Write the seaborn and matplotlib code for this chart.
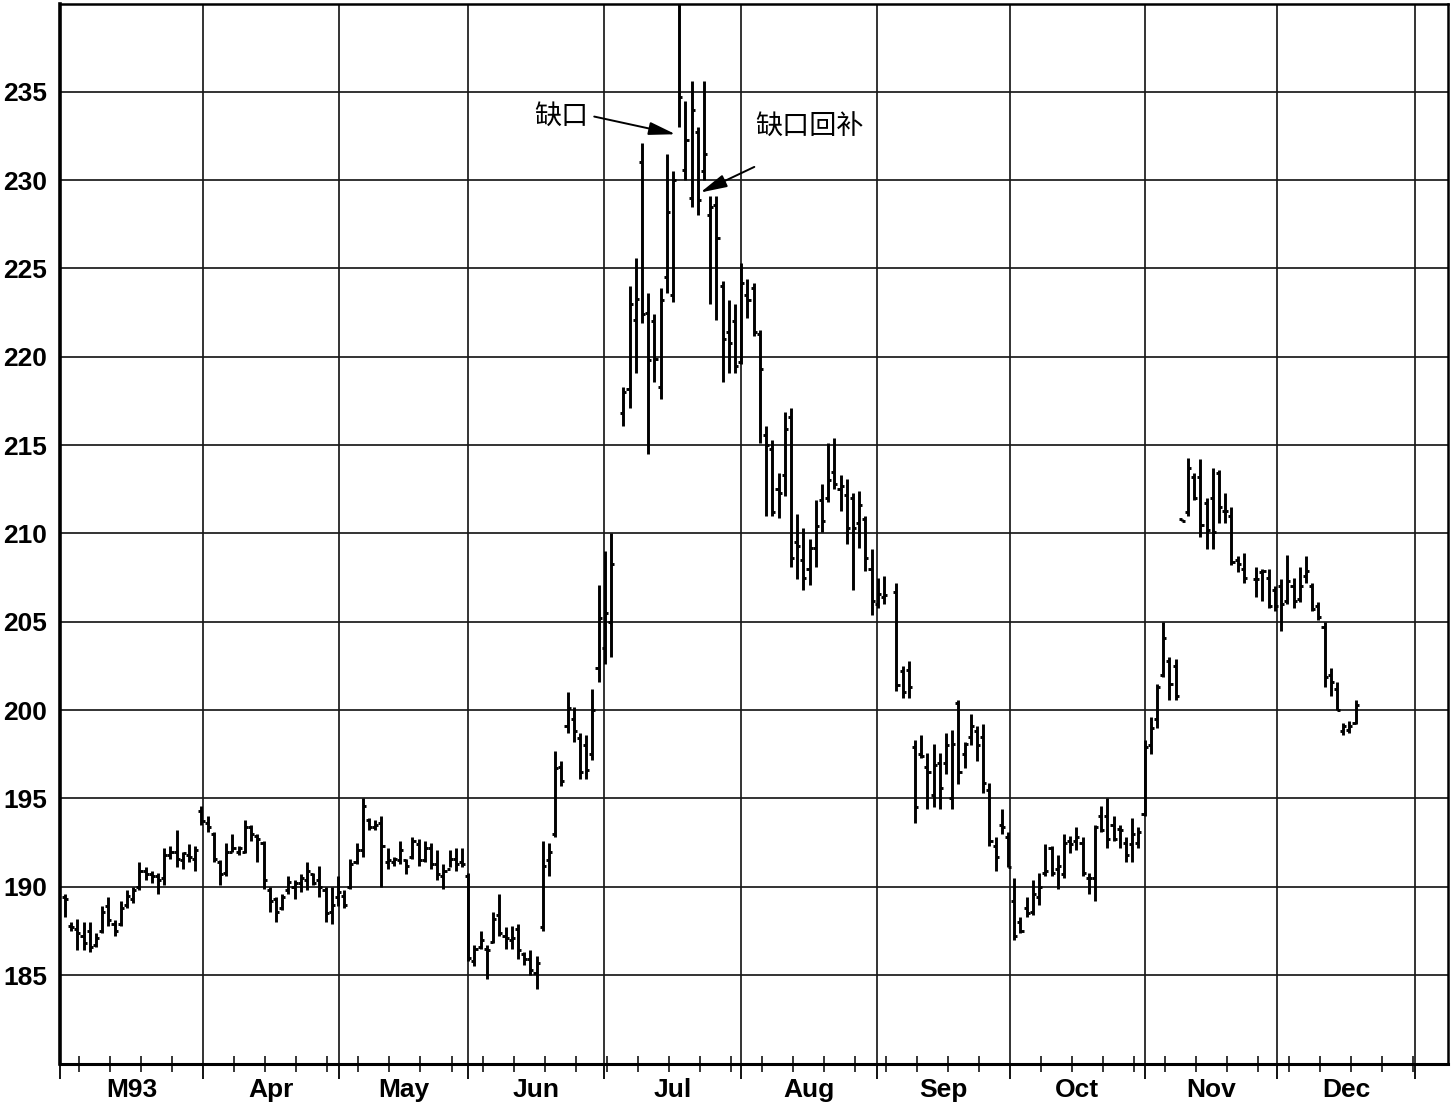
import numpy as np
import pandas as pd
import matplotlib
matplotlib.use("Agg")
import matplotlib.pyplot as plt
import seaborn as sns

# ---------------- data (daily OHLC, one entry per trading-day slot; None = no trading) ----------------
OPEN = [
    # March
    189.4, 187.8, 187.6, 187.2, 187.5, 186.7, 187.5, 188.9, 187.9, 187.9, 189.0, 189.3, 190.0, 190.9, 190.7, 190.6, 190.5, 191.8, 192.0, 191.5, 191.8, 191.6,
    # April
    194.3, 193.6, 193.0, 191.4, 190.8, 192.0, 192.0, 192.0, 193.4, 192.9, 192.5, 189.8, 189.3, 188.8, 189.8, 190.0, 190.2, 190.4, 190.7, 190.4, 189.8, 188.6,
    # May
    189.4, 189.5, 190.0, 191.4, 192.1, 193.8, 193.4, 193.6, 191.4, 191.4, 191.5, 191.5, 191.7, 192.4, 191.5, 192.2, 191.3, 190.6, 191.0, 191.6, 191.4,
    # June
    190.6, 185.8, 186.6, 186.5, 186.9, 188.4, 187.2, 187.0, 187.6, 186.2, 185.9, 185.1, 187.7, 191.5, 193.0, 196.8, 199.1, 199.5, 198.4, 198.0, 197.5, 202.4, 203.5, 205.0,
    None,
    # July
    216.8, 218.2, 222.1, 231.0, 222.5, 222.0, 218.3, 224.5, 223.5, 241.0, 230.6, 229.0, 232.7, 230.5, 228.0, 228.6, 224.0, 221.4, 222.0,
    # August
    219.7, 223.5, 223.9, 221.3, 215.6, 214.8, 212.5, 213.3, 216.6, 209.5, 208.5, 208.0, 209.2, 211.9, 212.0, 213.5, 212.5, 212.2, 212.0, 210.6, 210.8, 208.0,
    # September
    206.0, 206.4, None, 206.7, 202.2, 202.3, 197.9, 197.5, 196.8, 195.2, 197.0, 197.0, 195.0, 200.4, 197.5, 198.5, 198.8, 198.5, 195.5, 192.3, 193.5, 192.8,
    # October
    189.2, 188.0, 188.8, 188.6, 189.4, 190.8, 192.2, 191.0, 190.7, 192.6, 192.6, 192.5, 190.5, 190.5, 194.0, 194.0, 193.5, 193.3, 192.5, 192.4, 192.5, 194.1,
    # November
    198.0, 199.5, 202.0, 202.8, 202.5, 210.8, 211.2, 213.2, 213.2, 211.7, 212.0, 213.4, 211.3, 211.0, 208.5, 208.0, None, 207.4, 207.8, 207.5,
    # December
    206.8, 207.0, 206.2, 207.0, 206.3, 207.6, 207.0, 205.9, 204.7, 202.0, 201.2, 198.8, 198.9, 199.3,
]
HIGH = [
    189.6, 188.0, 188.2, 188.0, 188.0, 187.4, 188.9, 189.4, 188.1, 189.2, 189.8, 190.0, 191.4, 191.1, 190.9, 190.8, 192.2, 192.3, 193.2, 192.0, 192.4, 192.3,
    194.6, 194.0, 193.1, 191.5, 192.5, 193.0, 192.3, 193.8, 193.5, 193.0, 192.6, 190.0, 189.4, 189.6, 190.6, 190.4, 190.7, 191.4, 190.8, 191.2, 190.0, 190.0,
    190.6, 189.8, 191.6, 192.5, 195.0, 193.9, 193.8, 194.0, 192.2, 191.7, 192.6, 191.6, 192.8, 192.7, 192.6, 192.5, 192.1, 191.3, 192.1, 192.2, 192.2,
    190.8, 186.7, 187.5, 186.7, 188.6, 189.6, 187.7, 187.8, 187.9, 186.3, 186.4, 186.1, 192.6, 192.5, 197.7, 197.1, 201.0, 200.2, 198.7, 198.6, 201.2, 207.1, 209.0, 210.0,
    None,
    218.3, 224.0, 225.6, 232.1, 223.6, 222.4, 223.9, 231.5, 230.5, 241.0, 234.5, 235.6, 233.0, 235.6, 229.1, 229.1, 224.3, 223.2, 223.0,
    225.3, 224.4, 224.2, 221.5, 216.1, 215.3, 213.4, 216.9, 217.1, 211.1, 210.3, 209.7, 211.9, 212.8, 215.1, 215.4, 213.3, 213.1, 212.3, 212.4, 211.0, 209.1,
    207.5, 207.6, None, 207.2, 202.5, 202.8, 198.3, 198.6, 197.6, 198.1, 197.6, 198.7, 198.9, 200.6, 198.2, 199.8, 199.1, 199.2, 195.9, 192.8, 194.4, 193.1,
    190.5, 188.3, 189.4, 190.4, 190.8, 192.4, 192.3, 191.8, 193.0, 192.9, 193.4, 192.8, 190.8, 193.5, 194.6, 195.0, 194.0, 193.5, 192.8, 193.9, 193.4, 198.3,
    199.6, 201.5, 205.0, 203.0, 202.9, 210.8, 214.3, 213.4, 214.2, 212.0, 213.7, 213.6, 212.3, 211.5, 208.7, 208.9, None, 208.1, 208.0, 208.0,
    207.0, 207.4, 208.8, 207.5, 208.1, 208.7, 207.2, 206.1, 205.0, 202.4, 201.6, 199.3, 199.4, 200.6,
]
LOW = [
    188.3, 187.5, 186.4, 186.4, 186.3, 186.6, 187.4, 187.8, 187.2, 187.8, 188.8, 189.1, 189.8, 190.4, 190.2, 189.6, 190.1, 191.6, 191.1, 191.0, 191.4, 190.9,
    193.5, 193.1, 191.4, 190.1, 190.6, 192.0, 191.8, 191.9, 192.6, 191.4, 189.9, 188.6, 188.0, 188.7, 189.6, 189.3, 189.7, 189.8, 190.1, 189.4, 188.0, 187.9,
    188.9, 188.8, 189.9, 191.3, 191.7, 193.2, 193.2, 190.0, 191.0, 191.2, 191.3, 190.7, 191.6, 191.2, 191.4, 191.0, 190.4, 189.9, 191.1, 190.9, 191.1,
    185.8, 185.5, 186.5, 184.8, 186.8, 187.2, 186.5, 186.5, 185.9, 185.6, 185.0, 184.2, 187.5, 190.6, 192.8, 195.7, 198.7, 198.2, 196.1, 196.1, 197.2, 201.6, 202.6, 203.0,
    None,
    216.1, 217.1, 219.1, 221.9, 214.5, 218.6, 217.6, 223.6, 223.1, 233.0, 230.0, 228.5, 228.0, 230.0, 223.0, 222.1, 218.6, 219.1, 219.1,
    219.6, 222.2, 221.2, 215.1, 211.0, 211.0, 210.9, 212.1, 208.1, 207.4, 206.8, 207.1, 208.1, 210.1, 211.8, 212.5, 211.3, 209.4, 206.8, 209.2, 207.9, 205.4,
    205.8, 206.0, None, 201.1, 200.7, 200.7, 193.6, 197.3, 194.4, 194.5, 194.4, 196.4, 194.4, 195.8, 196.7, 198.0, 197.1, 195.3, 192.3, 190.9, 193.0, 191.1,
    187.0, 187.4, 188.3, 188.4, 189.0, 190.6, 190.6, 189.9, 190.5, 191.9, 192.1, 190.6, 189.6, 189.2, 193.1, 192.2, 192.6, 192.2, 191.4, 191.4, 192.2, 194.0,
    197.5, 199.0, 201.9, 200.6, 200.6, 210.7, 211.0, 211.9, 209.8, 209.1, 209.1, 210.6, 210.6, 208.2, 207.8, 207.2, None, 206.4, 206.2, 205.8,
    205.6, 204.5, 206.0, 205.8, 206.1, 207.2, 205.6, 205.1, 201.3, 200.8, 200.0, 198.6, 198.7, 199.2,
]
CLOSE = [
    189.3, 187.7, 187.4, 186.8, 186.6, 187.1, 188.6, 188.1, 187.5, 188.8, 189.5, 189.8, 190.9, 190.7, 190.6, 190.4, 191.8, 192.0, 191.6, 191.9, 191.7, 192.1,
    193.7, 193.4, 191.6, 190.7, 192.0, 192.2, 192.2, 193.4, 193.0, 192.7, 190.4, 189.2, 188.6, 189.4, 190.3, 190.2, 190.5, 190.9, 190.2, 190.0, 188.5, 189.0,
    189.7, 189.0, 191.3, 192.1, 194.6, 193.4, 193.5, 192.3, 191.5, 191.6, 192.1, 191.2, 192.6, 191.5, 192.2, 191.3, 190.7, 190.9, 191.6, 191.3, 191.3,
    186.0, 186.5, 187.0, 186.4, 188.2, 187.4, 187.1, 187.1, 186.4, 185.9, 185.3, 185.7, 191.2, 192.0, 196.7, 196.0, 200.1, 198.8, 196.5, 196.6, 200.0, 205.2, 205.5, 208.3,
    None,
    218.0, 223.0, 223.3, 222.4, 219.8, 219.9, 223.2, 228.2, 230.0, 234.7, 232.3, 234.0, 228.9, 231.5, 228.5, 226.7, 221.0, 220.8, 219.5,
    224.2, 223.2, 221.4, 219.3, 215.0, 211.2, 212.3, 215.9, 208.6, 209.3, 207.5, 209.2, 210.4, 210.7, 213.0, 212.8, 212.7, 210.3, 210.3, 211.6, 208.6, 206.2,
    206.6, 206.5, None, 201.4, 201.0, 201.3, 194.5, 197.4, 196.5, 196.9, 195.6, 198.0, 198.1, 196.5, 198.1, 199.1, 198.0, 195.9, 192.6, 191.7, 193.4, 191.1,
    187.2, 187.5, 188.5, 189.6, 190.0, 190.9, 190.8, 191.2, 192.5, 192.4, 192.8, 190.8, 190.5, 193.4, 193.2, 192.7, 192.7, 193.2, 191.8, 193.0, 193.1, 197.9,
    199.0, 201.3, 204.1, 201.5, 200.8, 210.7, 213.7, 212.0, 210.5, 210.2, 210.1, 211.5, 211.3, 208.4, 208.3, 207.5, None, 207.4, 207.9, 205.9,
    205.9, 206.0, 207.3, 206.2, 207.0, 207.9, 205.7, 205.3, 201.9, 201.6, 200.0, 199.1, 199.1, 200.3,
]

MONTH_LABELS = ["M93", "Apr", "May", "Jun", "Jul", "Aug", "Sep", "Oct", "Nov", "Dec"]
# month boundaries in trading-day slots (first trading day of each month)
MONTH_STARTS = [-0.8, 22.3, 44.2, 65.0, 86.9, 108.9, 130.8, 152.3, 174.0, 195.3, 217.6]
Y_TICKS = [185, 190, 195, 200, 205, 210, 215, 220, 225, 230, 235]

# annotations: label, text position, arrow tail, arrow head (day slot, price)
NOTES = [
    ("缺口", (80.0, 233.6), (85.3, 233.6), (98.4, 232.6)),
    ("缺口回补", (120.0, 233.0), (111.1, 230.75), (102.4, 229.3)),
]

# ---------------- build long table for seaborn ----------------
TICK_W = 0.5
rows = []
for i, (o, h, l, c) in enumerate(zip(OPEN, HIGH, LOW, CLOSE)):
    if h is None:
        continue
    rows += [(i, l, f"{i}hl"), (i, h, f"{i}hl")]
    rows += [(i - TICK_W, o, f"{i}o"), (i, o, f"{i}o")]
    rows += [(i, c, f"{i}c"), (i + TICK_W, c, f"{i}c")]
df = pd.DataFrame(rows, columns=["day", "price", "seg"])

# ---------------- style ----------------
sns.set_theme(style="white")
plt.rcParams["font.family"] = ["Liberation Sans", "Noto Sans CJK SC", "DejaVu Sans"]

fig = plt.figure(figsize=(14.52, 11.04), dpi=100)
ax = fig.add_axes([60 / 1452, 1 - 1063.5 / 1104, (1448 - 60) / 1452, (1063.5 - 3.5) / 1104])

sns.lineplot(data=df, x="day", y="price", units="seg", estimator=None, sort=False,
             color="black", lw=2.1, legend=False, ax=ax, solid_capstyle="butt")

ax.set_xlim(-0.8, 222.9)
ax.set_ylim(180, 240)

# grid
ax.set_yticks(Y_TICKS)
ax.set_yticklabels([str(v) for v in Y_TICKS], fontsize=19, fontweight="bold")
ax.set_xticks(MONTH_STARTS)
ax.set_xticklabels([])
weekly = np.arange(2.3, 222.0, 5.0)
ax.set_xticks(weekly, minor=True)
ax.grid(True, which="major", color="#1a1a1a", lw=1.25)
ax.grid(False, which="minor")
ax.tick_params(axis="y", length=0, pad=9, colors="black")
ax.tick_params(axis="x", which="major", direction="out", length=11, width=1.3, colors="black", bottom=True)
ax.tick_params(axis="x", which="minor", direction="inout", length=11, width=1.1, colors="black", bottom=True)
ax.set_xlabel("")
ax.set_ylabel("")

for s in ax.spines.values():
    s.set_visible(True)
    s.set_color("black")
    s.set_linewidth(1.8)
ax.spines["left"].set_linewidth(2.6)
ax.spines["bottom"].set_linewidth(2.2)

# month labels centred between boundaries
for k, lab in enumerate(MONTH_LABELS):
    xm = (MONTH_STARTS[k] + MONTH_STARTS[k + 1]) / 2
    ax.text(xm, -0.025, lab, transform=ax.get_xaxis_transform(), ha="center", va="center",
            fontsize=19, fontweight="bold", color="black", clip_on=False)

# annotations
cjk = ["Noto Sans CJK SC", "DejaVu Sans"]
arrow = dict(arrowstyle="-|>,head_length=0.9,head_width=0.22", color="black", lw=1.4,
             shrinkA=0, shrinkB=0, mutation_scale=18)
for label, tpos, tail, head in NOTES:
    ax.text(tpos[0], tpos[1], label, ha="center", va="center", fontsize=19.5, family=cjk, color="black")
    ax.annotate("", xy=head, xytext=tail, arrowprops=arrow)

fig.savefig("out.png", dpi=100)
